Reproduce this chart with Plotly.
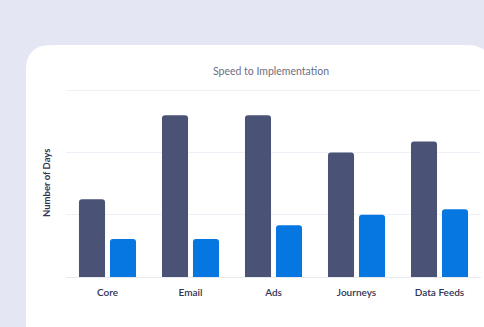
import plotly.graph_objects as go

categories = ["Core", "Email", "Ads", "Journeys", "Data Feeds"]
series_a = [25, 52, 52, 40, 43.5]
series_b = [12.2, 12.2, 16.6, 20, 21.8]

W, H = 484, 327
L, R, T, B = 66, 3, 84, 50
pw, ph = W - L - R, H - T - B

def px(x):
    return (x - L) / pw

def py(y):
    return (H - B - y) / ph

# rounded card
x0, y0, x1, y1, r = 26, 45, 492, 380, 25
path = (f"M {px(x0)} {py(y0 + r)} Q {px(x0)} {py(y0)} {px(x0 + r)} {py(y0)} "
        f"L {px(x1 - r)} {py(y0)} Q {px(x1)} {py(y0)} {px(x1)} {py(y0 + r)} "
        f"L {px(x1)} {py(y1)} L {px(x0)} {py(y1)} Z")

fig = go.Figure()
fig.add_trace(go.Bar(x=categories, y=series_a, marker=dict(color="#4a5276", cornerradius=3,
                     line=dict(width=0)), hoverinfo="skip"))
fig.add_trace(go.Bar(x=categories, y=series_b, marker=dict(color="#0677e0", cornerradius=3,
                     line=dict(width=0)), hoverinfo="skip"))

fig.update_layout(
    width=W, height=H,
    margin=dict(l=L, r=R, t=T, b=B, pad=0),
    paper_bgcolor="#e4e6f4",
    plot_bgcolor="rgba(0,0,0,0)",
    showlegend=False,
    barmode="group",
    bargap=0.253,
    bargroupgap=0.16,
    font=dict(family="Lato", color="#2f3452"),
    title=dict(text="Speed to Implementation", x=271 / W, y=1 - 71 / H, xref="container",
               yref="container", xanchor="center", yanchor="middle",
               font=dict(family="Lato", size=10.5, color="#6b6f85", weight=400)),
    shapes=[dict(type="path", path=path, xref="paper", yref="paper", fillcolor="white",
                 line=dict(width=0), layer="below")],
    annotations=[dict(text="<b>Number of Days</b>", x=px(46), y=py(183), xref="paper", yref="paper",
                      textangle=-90, showarrow=False, xanchor="center", yanchor="middle",
                      font=dict(family="Lato", size=9.5, color="#2f3452"))],
)
fig.update_xaxes(showgrid=False, showline=True, linecolor="#e8eaf2", linewidth=1, ticks="",
                 tickfont=dict(family="Lato", size=10, color="#2f3452", weight=600),
                 ticklabelstandoff=6)
fig.update_yaxes(range=[0, 62], dtick=20, showticklabels=False, gridcolor="#eef0f8",
                 gridwidth=1, zeroline=False, showline=False)

fig.write_html("out.html")
